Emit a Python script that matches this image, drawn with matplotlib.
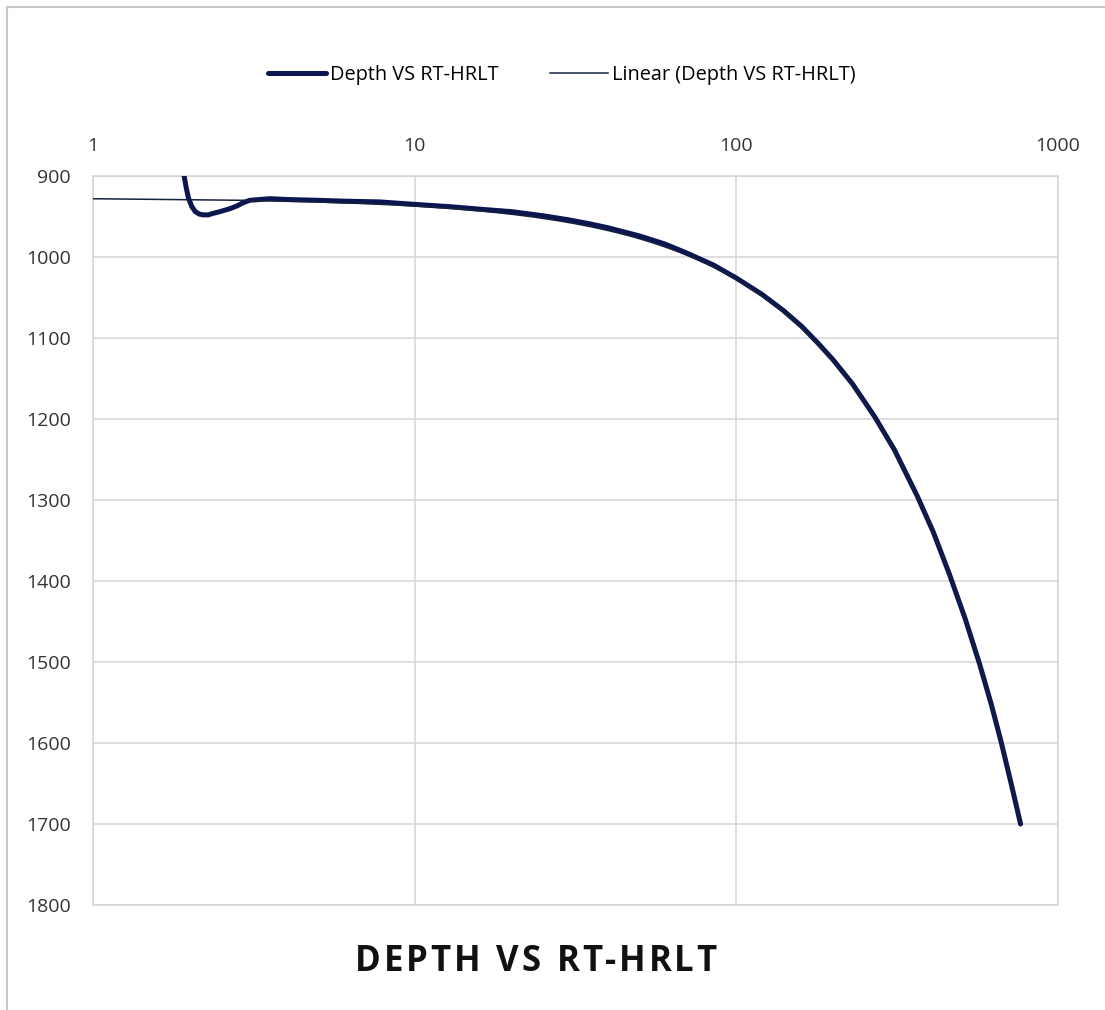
import numpy as np
import matplotlib.pyplot as plt
from matplotlib.patches import Rectangle

# RT-HRLT readings (x, log scale) and depth (y, inverted)
rt_hrlt = [1.90, 1.92, 1.95, 1.98, 2.03, 2.08, 2.14, 2.20, 2.28, 2.37, 2.48,
           2.58, 2.68, 2.80, 2.93, 3.07, 3.30, 3.55, 4.0, 5.0, 6.0, 7.8,
           10, 13, 16, 20, 25, 30, 35, 40, 50, 60, 70, 85, 100, 120, 140,
           160, 180, 200, 230, 270, 310, 365, 410, 460, 515, 570, 620, 665,
           715, 765]
depth = [890, 900, 915, 927, 938, 944, 947, 948, 948, 946, 944,
         942, 940, 937, 933, 930, 929, 928, 929, 930, 931, 932,
         935, 938, 941, 944, 949, 954, 959, 964, 974, 984, 995, 1010, 1026,
         1046, 1066, 1086, 1107, 1127, 1157, 1198, 1238, 1295, 1340, 1392,
         1447, 1502, 1552, 1598, 1650, 1700]

x_ticks = [1, 10, 100, 1000]
x_tick_labels = ['1', '10', '100', '1000']
y_ticks = [900, 1000, 1100, 1200, 1300, 1400, 1500, 1600, 1700, 1800]

navy = '#0b1650'
grid_gray = '#d4d4d4'

plt.rcParams['font.family'] = ['Open Sans', 'DejaVu Sans']

fig = plt.figure(figsize=(11.05, 10.10), dpi=100)
# outer chart frame (only the left and top edges fall inside the picture)
fig.patches.append(Rectangle((7 / 1105, -0.1), 1.2, 1 - 7 / 1010 + 0.1,
                             transform=fig.transFigure, fill=False,
                             edgecolor='#c8c8c8', linewidth=1.5, zorder=0))

ax = fig.add_axes([93 / 1105, 1 - 905 / 1010, (1058 - 93) / 1105, (905 - 176) / 1010])

# linear trendline (fit in linear x, like Excel)
slope, intercept = np.polyfit(rt_hrlt, depth, 1)
trend_x = np.linspace(1, max(rt_hrlt), 400)
trend_y = intercept + slope * trend_x

ax.plot(rt_hrlt, depth, color=navy, linewidth=3.6, solid_capstyle='round',
        solid_joinstyle='round', label='Depth VS RT-HRLT', zorder=3)
ax.plot(trend_x, trend_y, color='#14213d', linewidth=1.1,
        label='Linear (Depth VS RT-HRLT)', zorder=4)

ax.set_xscale('log')
ax.set_xlim(1, 1000)
ax.set_ylim(1800, 900)
ax.set_xticks(x_ticks)
ax.set_xticklabels(x_tick_labels)
ax.minorticks_off()
ax.set_yticks(y_ticks)
ax.xaxis.tick_top()
ax.tick_params(axis='both', length=0, labelsize=14, colors='#333333')
ax.tick_params(axis='x', pad=15)
ax.tick_params(axis='y', pad=16)
ax.grid(True, color=grid_gray, linewidth=1.1)
ax.set_axisbelow(True)
for s in ax.spines.values():
    s.set_color(grid_gray)
    s.set_linewidth(1.1)

fig.legend(loc='center', bbox_to_anchor=(562 / 1105, 1 - 75 / 1010), ncol=2,
           frameon=False, fontsize=14.3, handlelength=2.9, handletextpad=0.2,
           columnspacing=2.6)

# title with letter spacing: place characters one by one
title = 'DEPTH VS RT-HRLT'
gap = 2.8        # extra px between letters
space_w = 13     # px for a word space
renderer = fig.canvas.get_renderer()
pieces = []
total = 0.0
for ch in title:
    if ch == ' ':
        pieces.append((ch, space_w))
        total += space_w
        continue
    t = fig.text(0, 0, ch, fontsize=25, fontweight='bold')
    w = t.get_window_extent(renderer).width
    t.remove()
    pieces.append((ch, w))
    total += w + gap
total -= gap
x0 = 536 - total / 2
for ch, w in pieces:
    if ch != ' ':
        fig.text(x0 / 1105, 1 - 962 / 1010, ch, ha='left', va='center',
                 fontsize=25, fontweight='bold', color='#111111')
        x0 += w + gap
    else:
        x0 += w

fig.savefig('out.png', dpi=100)
